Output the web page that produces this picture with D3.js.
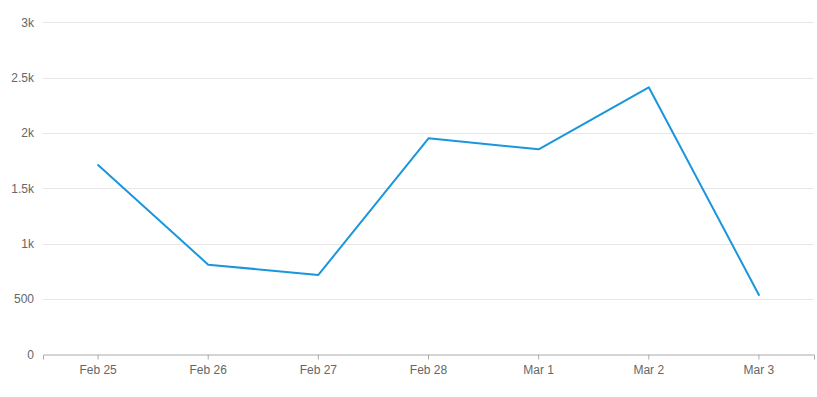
<!DOCTYPE html>
<html><head><meta charset="utf-8">
<script src="https://cdn.jsdelivr.net/npm/d3@7"></script>
<style>body{margin:0;background:#fff;}svg{display:block;font-family:"Liberation Sans",Arial,sans-serif;}</style>
</head><body>
<svg id="c" width="817" height="397"></svg>
<script>
const categories = ["Feb 25","Feb 26","Feb 27","Feb 28","Mar 1","Mar 2","Mar 3"];
const values = [1710, 810, 717, 1952, 1852, 2413, 536];
const yTicks = [0, 500, 1000, 1500, 2000, 2500, 3000];
const yTickLabels = ["0","500","1k","1.5k","2k","2.5k","3k"];

const svg = d3.select("#c");
const m = {left:43, right:3, top:22.3, bottom:42.7};
const W = 817, H = 397;
const x = d3.scaleBand().domain(categories).range([m.left, W - m.right]);
const y = d3.scaleLinear().domain([0, 3000]).range([H - m.bottom, m.top]);

// gridlines
svg.append("g").selectAll("line").data(yTicks.slice(1)).join("line")
  .attr("x1", m.left).attr("x2", W - m.right)
  .attr("y1", d => Math.round(y(d)) + 0.5).attr("y2", d => Math.round(y(d)) + 0.5)
  .attr("stroke", "#e6e6e6").attr("stroke-width", 1);

// y labels
svg.append("g").selectAll("text").data(yTicks).join("text")
  .attr("x", 34).attr("y", d => y(d)).attr("dy", "0.35em")
  .attr("text-anchor", "end").attr("fill", "#666").attr("font-size", 12)
  .text((d, i) => yTickLabels[i]);

// x axis
const xa = svg.append("g").attr("transform", `translate(0,${Math.round(y(0)) + 0.5})`)
  .call(d3.axisBottom(x).tickSizeOuter(0).tickSize(5).tickPadding(6));
xa.select(".domain").attr("stroke", "#aaa");
xa.selectAll(".tick line").attr("stroke", "#aaa");
xa.selectAll(".tick text").attr("fill", "#666").attr("font-size", 12)
  .attr("font-family", '"Liberation Sans",Arial,sans-serif');

// line
const line = d3.line().x((d, i) => x(categories[i]) + x.bandwidth() / 2).y(d => y(d));
svg.append("path").datum(values).attr("d", line)
  .attr("fill", "none").attr("stroke", "#1a96dc").attr("stroke-width", 2)
  .attr("stroke-linejoin", "round").attr("stroke-linecap", "round");
</script>
</body></html>
